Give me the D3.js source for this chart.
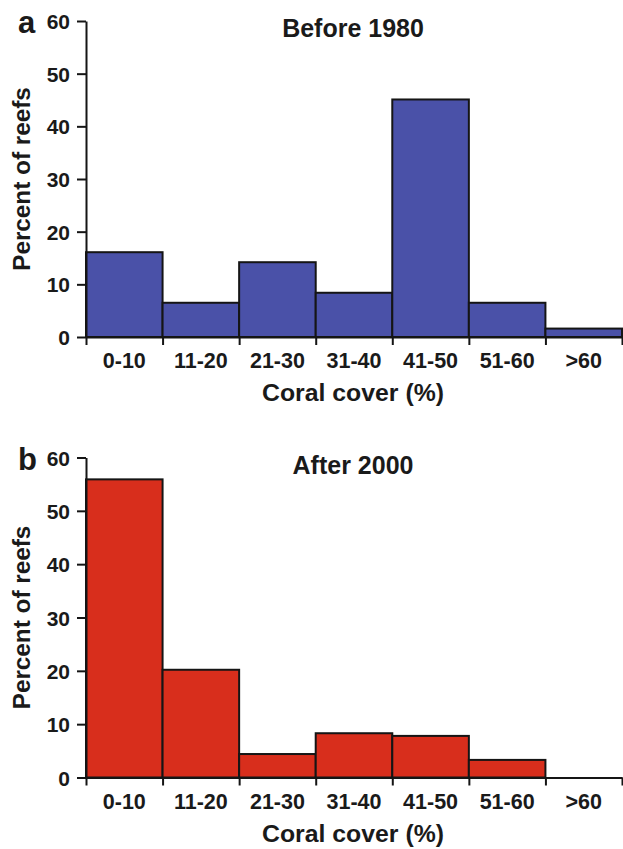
<!DOCTYPE html>
<html>
<head>
<meta charset="utf-8">
<script src="https://cdn.jsdelivr.net/npm/d3@7"></script>
<style>
  body { margin: 0; background: #fff; }
  text { font-family: "Liberation Sans", Arial, Helvetica, sans-serif; font-weight: bold; fill: #1a1a1a; }
</style>
</head>
<body>
<script>
// bins of coral cover
var categories = ['0-10', '11-20', '21-30', '31-40', '41-50', '51-60', '>60']
// percent of reefs in each bin
var before1980 = [16.1, 6.5, 14.2, 8.4, 45.1, 6.5, 1.6]
var after2000 = [55.9, 20.2, 4.4, 8.3, 7.8, 3.3, 0]
var yTicks = [0, 10, 20, 30, 40, 50, 60]

var width = 623
var height = 849

var svg = d3.select('body').append('svg')
  .attr('width', width)
  .attr('height', height)

var panels = [
  { letter: 'a', title: 'Before 1980', values: before1980, color: '#4a51a8', top: 21, bottom: 337 },
  { letter: 'b', title: 'After 2000', values: after2000, color: '#d82e1c', top: 457.5, bottom: 777.5 }
]

var left = 86
var right = 622

var x = d3.scaleBand()
  .domain(categories)
  .range([left, right])
  .paddingInner(0)
  .paddingOuter(0)

// boundary ticks sit between bins
var xEdges = d3.scaleLinear().domain([0, categories.length]).range([left, right])

panels.forEach(function (p) {
  var y = d3.scaleLinear().domain([0, 60]).range([p.bottom, p.top])
  var g = svg.append('g')

  // bars
  g.selectAll('rect.bar')
    .data(p.values.map(function (v, i) { return { cat: categories[i], v: v } }).filter(function (d) { return d.v > 0 }))
    .enter().append('rect')
    .attr('class', 'bar')
    .attr('x', function (d) { return x(d.cat) })
    .attr('y', function (d) { return y(d.v) })
    .attr('width', x.bandwidth())
    .attr('height', function (d) { return y(0) - y(d.v) })
    .attr('fill', p.color)
    .attr('stroke', '#151515')
    .attr('stroke-width', 2)

  // y axis
  var yAxis = g.append('g')
    .attr('transform', 'translate(' + left + ',0)')
    .call(d3.axisLeft(y).tickValues(yTicks).tickSize(9).tickPadding(7).tickSizeOuter(0))
  yAxis.select('.domain').attr('stroke', '#151515').attr('stroke-width', 2)
  yAxis.selectAll('.tick line').attr('stroke', '#151515').attr('stroke-width', 2)
  yAxis.selectAll('.tick text').style('font-size', '21px').attr('dy', '0.36em')

  // x axis: boundary ticks
  var xAxis = g.append('g')
    .attr('transform', 'translate(0,' + p.bottom + ')')
    .call(d3.axisBottom(xEdges).tickValues(d3.range(categories.length + 1)).tickSize(8).tickSizeOuter(0).tickFormat(function () { return '' }))
  xAxis.select('.domain').attr('stroke', '#151515').attr('stroke-width', 2)
  xAxis.selectAll('.tick line').attr('stroke', '#151515').attr('stroke-width', 2)

  // x axis: bin labels
  var xLab = g.append('g')
    .attr('transform', 'translate(0,' + p.bottom + ')')
    .call(d3.axisBottom(x).tickSize(0).tickPadding(16))
  xLab.select('.domain').remove()
  xLab.selectAll('.tick text').style('font-size', '21.5px').attr('dy', '0.71em')

  // titles
  g.append('text')
    .attr('x', 353)
    .attr('y', p.top + 16)
    .attr('text-anchor', 'middle')
    .style('font-size', '25px')
    .text(p.title)

  g.append('text')
    .attr('x', 18)
    .attr('y', p.top + 12)
    .style('font-size', '31px')
    .text(p.letter)

  g.append('text')
    .attr('x', 353)
    .attr('y', p.bottom + 64)
    .attr('text-anchor', 'middle')
    .style('font-size', '24.8px')
    .text('Coral cover (%)')

  g.append('text')
    .attr('transform', 'translate(30,' + (p.top + p.bottom) / 2 + ') rotate(-90)')
    .attr('text-anchor', 'middle')
    .style('font-size', '24.3px')
    .text('Percent of reefs')
})
</script>
</body>
</html>
